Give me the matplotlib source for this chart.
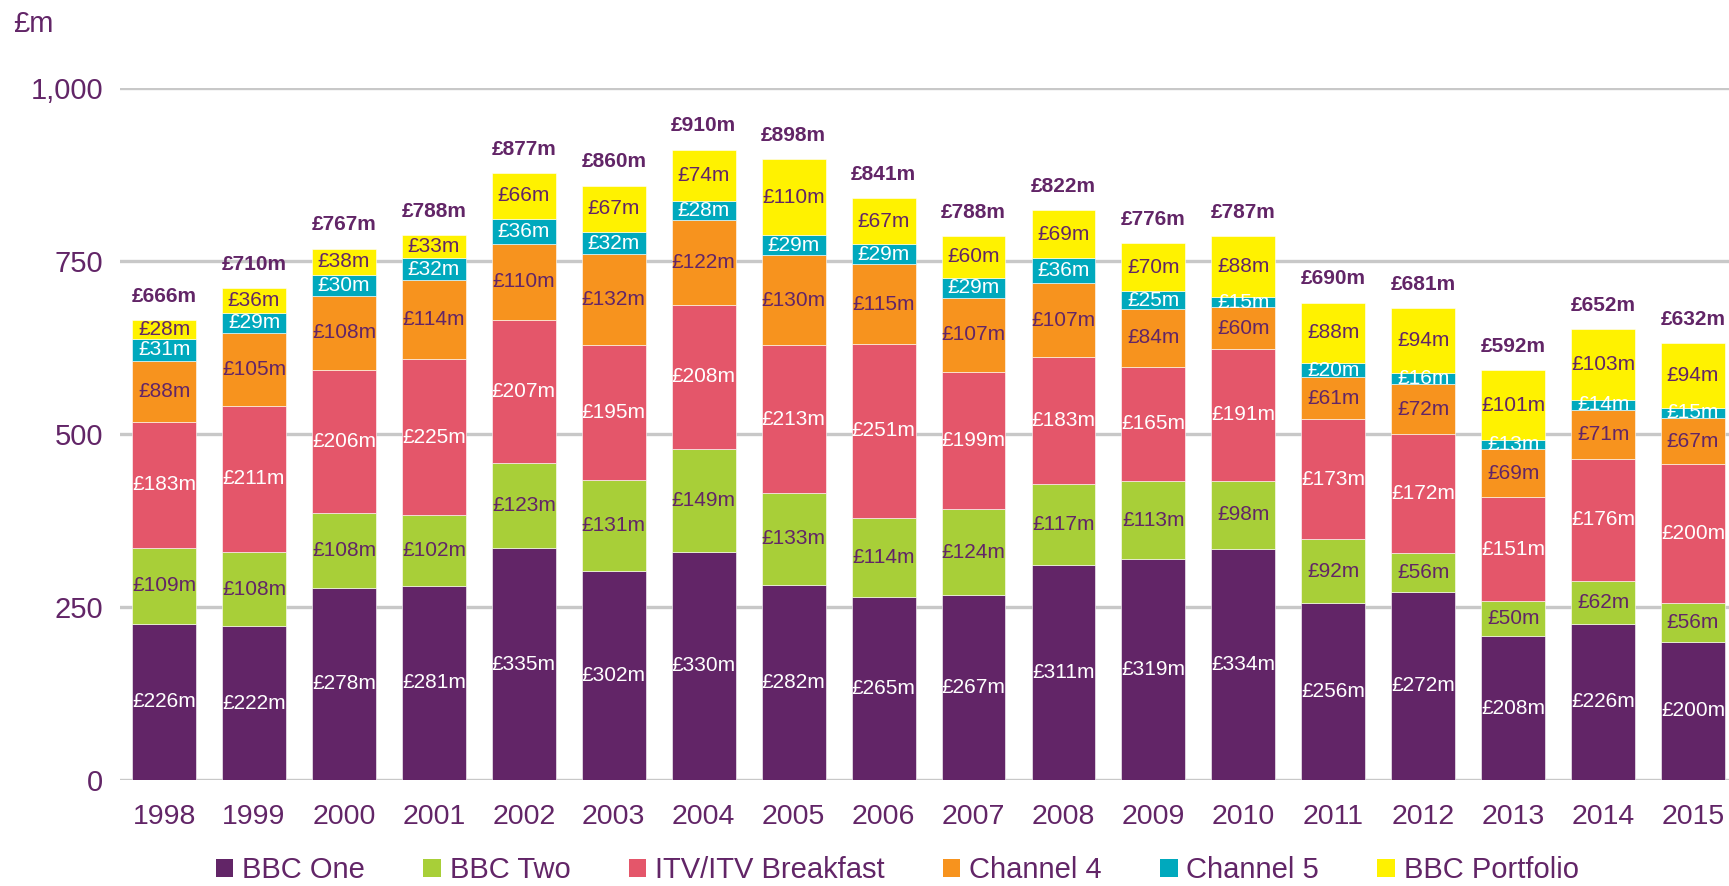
import matplotlib.pyplot as plt
import numpy as np

plt.rcParams["font.family"] = ["Liberation Sans", "DejaVu Sans"]

years = ["1998", "1999", "2000", "2001", "2002", "2003", "2004", "2005", "2006",
         "2007", "2008", "2009", "2010", "2011", "2012", "2013", "2014", "2015"]

bbc_one = [226, 222, 278, 281, 335, 302, 330, 282, 265, 267, 311, 319, 334, 256, 272, 208, 226, 200]
bbc_two = [109, 108, 108, 102, 123, 131, 149, 133, 114, 124, 117, 113, 98, 92, 56, 50, 62, 56]
itv = [183, 211, 206, 225, 207, 195, 208, 213, 251, 199, 183, 165, 191, 173, 172, 151, 176, 200]
channel_4 = [88, 105, 108, 114, 110, 132, 122, 130, 115, 107, 107, 84, 60, 61, 72, 69, 71, 67]
channel_5 = [31, 29, 30, 32, 36, 32, 28, 29, 29, 29, 36, 25, 15, 20, 16, 13, 14, 15]
bbc_portfolio = [28, 36, 38, 33, 66, 67, 74, 110, 67, 60, 69, 70, 88, 88, 94, 101, 103, 94]
totals = [666, 710, 767, 788, 877, 860, 910, 898, 841, 788, 822, 776, 787, 690, 681, 592, 652, 632]

PURPLE = "#622567"
series = [
    ("BBC One", bbc_one, "#622567", "white"),
    ("BBC Two", bbc_two, "#A8CF38", PURPLE),
    ("ITV/ITV Breakfast", itv, "#E4566A", "white"),
    ("Channel 4", channel_4, "#F7931E", PURPLE),
    ("Channel 5", channel_5, "#00A9BD", "white"),
    ("BBC Portfolio", bbc_portfolio, "#FFF200", PURPLE),
]

fig = plt.figure(figsize=(17.29, 8.86), dpi=100)
ax = fig.add_axes([0.0694, 0.1196, 0.9306, 0.7811])

x = np.arange(len(years))
bottom = np.zeros(len(years))
for name, vals, color, txt_color in series:
    vals = np.array(vals, dtype=float)
    ax.bar(x, vals, 0.71, bottom=bottom, color=color, label=name,
           edgecolor="white", linewidth=0.4, zorder=3)
    for xi, b, v in zip(x, bottom, vals):
        ax.text(xi, b + v / 2, f"£{int(v)}m", ha="center", va="center",
                fontsize=15, color=txt_color, zorder=4)
    bottom += vals

# totals above each bar
for xi, top, t in zip(x, bottom, totals):
    ax.annotate(f"£{t}m", (xi, top), xytext=(0, 17), textcoords="offset points",
                ha="center", va="center", fontsize=15, fontweight="bold",
                color=PURPLE, annotation_clip=False)

ax.set_xlim(-0.49, 17.4)
ax.set_ylim(0, 1000)
ax.set_yticks([0, 250, 500, 750, 1000])
ax.set_yticklabels(["0", "250", "500", "750", "1,000"])
ax.set_xticks(x)
ax.set_xticklabels(years)
ax.tick_params(axis="y", length=0, pad=12, labelsize=21, labelcolor=PURPLE)
ax.tick_params(axis="x", length=0, pad=17, labelsize=20.5, labelcolor=PURPLE)
ax.yaxis.grid(True, color="#C8C8C8", linewidth=2.4, zorder=0)
ax.set_axisbelow(True)
for s in ax.spines.values():
    s.set_visible(False)

fig.text(0.0075, 0.973, "£m", fontsize=21, color=PURPLE, ha="left", va="center")

leg = fig.legend(loc="center", bbox_to_anchor=(0.519, 0.018), ncol=6, frameon=False,
                 fontsize=21, handlelength=0.6, handleheight=0.6, handletextpad=0.3,
                 columnspacing=2.0, labelcolor=PURPLE)
for h in leg.legend_handles:
    h.set_edgecolor("none")

fig.savefig("out.png", dpi=100)
